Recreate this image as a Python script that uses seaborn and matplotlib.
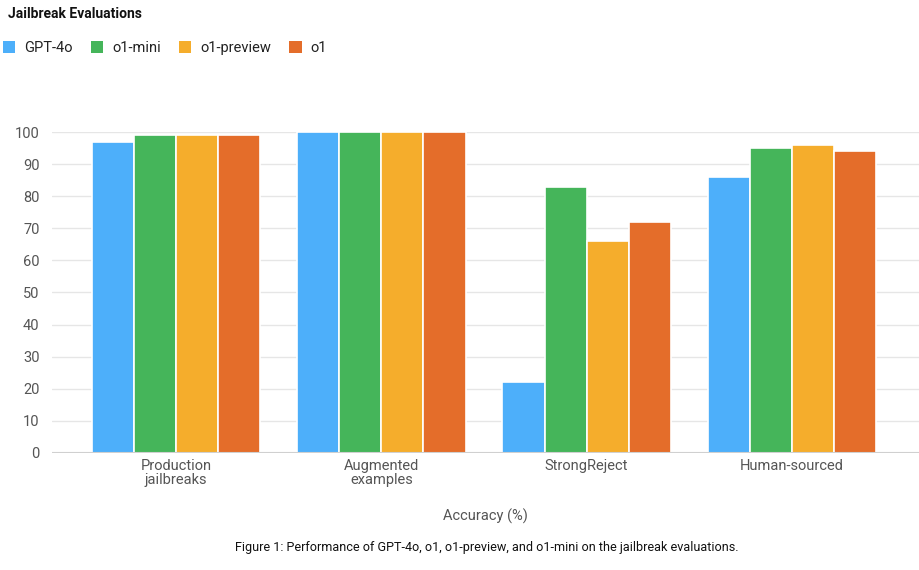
import seaborn as sns
import pandas as pd
import matplotlib.pyplot as plt
from matplotlib.patches import Patch

# Chart data
categories = ['Production\njailbreaks', 'Augmented\nexamples', 'StrongReject', 'Human-sourced']
models = ['GPT-4o', 'o1-mini', 'o1-preview', 'o1']
gpt4o = [97, 100, 22, 86]
o1_mini = [99, 100, 83, 95]
o1_preview = [99, 100, 66, 96]
o1 = [99, 100, 72, 94]

colors = ['#4DAFFA', '#45B55A', '#F5AD2C', '#E46D2A']


def build_frame():
    rows = []
    for model, vals in zip(models, [gpt4o, o1_mini, o1_preview, o1]):
        for cat, v in zip(categories, vals):
            rows.append({'category': cat, 'model': model, 'accuracy': v})
    return pd.DataFrame(rows)


def main():
    sns.set_style('white')
    plt.rcParams['font.family'] = ['Roboto', 'DejaVu Sans']

    df = build_frame()

    fig = plt.figure(figsize=(9.19, 5.70), dpi=100)
    ax = fig.add_axes([0.0566, 0.2053, 0.9434, 0.5631])

    sns.barplot(
        data=df, x='category', y='accuracy', hue='model',
        order=categories, hue_order=models, palette=colors,
        saturation=1, width=0.82, edgecolor='white', linewidth=1.2,
        legend=False, ax=ax, zorder=3
    )

    ax.set_ylim(0, 100)
    ax.set_xlim(-0.605, 3.62)
    ax.set_yticks(range(0, 101, 10))
    ax.yaxis.grid(True, color='#e6e6e6', linewidth=1, zorder=0)
    ax.axhline(0, color='#d0d0d0', linewidth=1.5, zorder=4)
    for side in ['top', 'right', 'left', 'bottom']:
        ax.spines[side].set_visible(False)
    ax.tick_params(axis='both', length=0, labelsize=10.5, colors='#555555')
    ax.tick_params(axis='y', pad=9)
    ax.tick_params(axis='x', pad=4)
    ax.set_ylabel('')
    ax.set_xlabel('Accuracy (%)', fontsize=10.5, color='#555555', labelpad=16)
    for lbl in ax.get_xticklabels():
        lbl.set_linespacing(1.0)

    # Title and legend
    fig.text(0.009, 0.988, 'Jailbreak Evaluations', fontsize=10, fontweight='bold',
             color='#111111', ha='left', va='top')
    handles = [Patch(facecolor=c, edgecolor='none') for c in colors]
    fig.legend(handles, models, loc='upper left', bbox_to_anchor=(0.0, 0.933),
               borderaxespad=0.0, borderpad=0.2,
               ncol=4, frameon=False, fontsize=10.5, handlelength=0.85,
               handleheight=0.85, handletextpad=0.6, columnspacing=1.25,
               labelcolor='#222222')

    # Caption
    fig.text(0.53, 0.04, 'Figure 1: Performance of GPT-4o, o1, o1-preview, and o1-mini on the jailbreak evaluations.',
             fontsize=9.1, color='#111111', ha='center', va='center')

    fig.savefig('out.png', dpi=100)


if __name__ == '__main__':
    main()
